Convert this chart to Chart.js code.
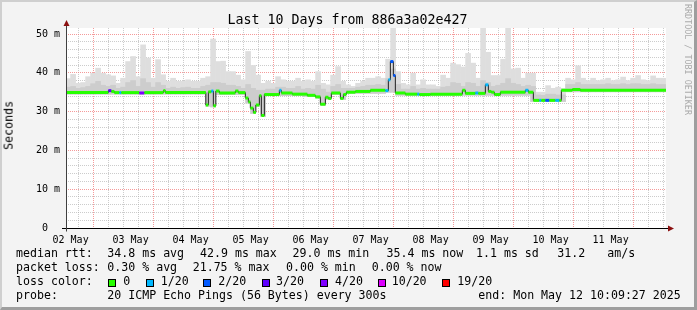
<!DOCTYPE html>
<html><head><meta charset="utf-8">
<script src="https://cdn.jsdelivr.net/npm/chart.js@4.4.1/dist/chart.umd.min.js"></script>
<style>
html,body{margin:0;padding:0;}
body{width:697px;height:310px;overflow:hidden;position:relative;background:#f3f3f3;font-family:"DejaVu Sans Mono",monospace;}
#frame{position:absolute;left:0;top:0;width:697px;height:310px;box-sizing:border-box;border-top:2px solid #cfcfcf;border-left:2px solid #cfcfcf;border-right:3px solid #9e9e9e;border-bottom:3px solid #9e9e9e;}
canvas{position:absolute;left:0;top:0;}
.t{position:absolute;white-space:pre;color:#000;line-height:1;}
.lg{font-size:11.6px;}
.box{position:absolute;width:8px;height:8px;box-sizing:border-box;border:1px solid #000;}
</style></head>
<body>
<div id="frame"></div>
<canvas id="c" width="697" height="310"></canvas>
<div class="t" id="title" style="font-size:13.3px;left:347.5px;top:12.8px;transform:translateX(-50%);">Last 10 Days from 886a3a02e427</div>
<div class="t" id="ytitle" style="font-size:11.6px;left:4px;top:101px;writing-mode:vertical-rl;transform:rotate(180deg);">Seconds</div>
<div class="t" id="rrd" style="font-size:8.4px;left:684px;top:4px;writing-mode:vertical-rl;color:#aaaaaa;">RRDTOOL / TOBI OETIKER</div>
<div id="legend"></div>
<script>
// ---------- data ----------
const startHour = 10.16;          // hours after 02 May 00:00
const endHour = 250.16;           // Mon May 12 10:09:27
const dayLabels = ['02 May','03 May','04 May','05 May','06 May','07 May','08 May','09 May','10 May','11 May'];
const yTickValues = [0,10,20,30,40,50];
const lossLabels = ['0','1/20','2/20','3/20','4/20','10/20','19/20'];
const lossColors = ['#26ff00','#00b8ff','#0059ff','#5e00ff','#7e00ff','#dd00ff','#ff0000'];

// smoke buckets: 2 hour buckets starting at 10:00 on 02 May (bucket centre = 11 + 2*i hours)
const bucketStart = 10;
const bucketHours = 2;
const smokeMax = [
 38.5,39.6,37.3,37.5,39.0,39.9,41.2,39.9,39.5,39.2, 37.3,38.6,42.9,44.2,39.0,47.2,43.8,38.6,43.4,39.5,
 37.8,38.6,37.8,37.8,38.2,37.8,37.8,38.6,39.0,48.7, 42.9,43.0,40.3,40.3,39.4,38.2,45.5,41.9,39.4,37.3,
 37.8,37.3,39.0,38.2,37.8,37.8,38.6,37.8,38.2,37.8, 40.3,37.3,36.9,39.4,41.6,37.8,36.9,36.5,37.3,37.8,
 38.6,38.6,39.0,38.6,43.5,51.6,40.3,37.3,36.9,39.9, 36.9,38.2,36.9,36.9,36.5,39.4,38.6,42.5,42.1,41.5,
 45.0,42.5,38.6,51.6,45.3,39.3,39.3,43.5,51.6,41.0, 41.2,38.6,39.9,39.9,35.0,35.0,36.7,36.0,36.3,36.0,
 38.6,38.2,41.8,38.6,38.0,38.6,38.0,38.2,38.6,38.0, 38.2,38.9,38.0,38.6,39.3,38.2,38.0,39.2,38.6,38.6
];
const smokeMid = [
 36.3,36.5,36.0,36.2,36.5,37.2,37.8,36.8,36.5,36.8, 36.0,36.3,37.5,38.0,36.5,38.5,37.5,36.3,37.5,36.8,
 36.0,36.3,36.0,36.2,36.3,36.0,36.0,36.5,36.8,37.5, 37.5,37.3,36.8,36.8,36.5,36.0,37.0,36.0,35.5,35.5,
 35.8,35.8,36.3,36.3,36.0,36.0,36.5,35.8,36.0,35.8, 36.8,35.8,35.0,36.5,37.0,36.0,36.0,36.0,36.3,36.5,
 36.8,36.8,37.0,36.8,38.5,41.0,37.0,35.8,35.8,36.5, 35.8,36.0,35.8,35.8,35.8,36.3,36.5,37.5,37.3,36.5,
 37.5,37.3,36.5,38.0,37.5,36.5,36.8,37.3,38.5,37.3, 37.0,36.5,36.8,36.5,34.3,34.2,34.5,34.5,34.3,34.3,
 37.0,37.0,37.5,37.0,37.0,37.0,37.0,37.0,37.2,37.0, 37.0,37.2,37.0,37.2,37.2,37.0,37.0,37.2,37.0,37.0
];
const smokeLow = [
 34.5,34.5,34.5,34.5,34.5,34.5,34.5,34.5,34.5,34.5, 34.5,34.5,34.5,34.5,34.5,34.5,34.5,34.5,34.5,34.5,
 34.5,34.5,34.5,34.5,34.5,34.5,34.5,34.5,31.4,31.2, 34.4,34.4,34.4,34.4,34.4,34.4,32.2,29.5,31.4,28.7,
 34.1,34.1,34.1,34.1,34.1,34.1,34.1,34.1,33.9,33.9, 33.5,31.6,33.1,34.4,34.4,33.1,34.7,34.7,34.7,34.7,
 34.7,34.7,34.7,34.7,35.0,35.0,34.2,34.2,34.2,34.2, 34.2,34.2,34.2,34.2,34.2,34.2,34.2,34.2,34.2,34.2,
 34.2,34.2,34.2,34.2,34.2,34.2,34.2,34.2,34.2,34.2, 34.2,34.2,34.2,32.6,32.6,32.6,32.6,32.6,32.6,32.6,
 35.1,35.1,35.1,35.1,35.1,35.1,35.1,35.1,35.1,35.1, 35.1,35.1,35.1,35.1,35.1,35.1,35.1,35.1,35.1,35.1
];

// median rtt steps: start hour of each step, value (ms), loss level index
const medianT = [10.16,27.1,28.3,29.5,31.5,32.3,39.5,41.5,49.1,49.9,66.1,67.1,68.3,69.1,70.1,71.5,77.9,79.1,81.9,83.1,
 83.9,85.1,86.1,87.5,88.3,89.5,95.5,96.3,100.7,106.7,109.9,111.9,113.9,115.1,116.3,119.9,121.1,122.3,125.9,131.9,
 137.9,139.1,139.9,141.1,141.9,145.9,150.7,151.5,155.9,168.7,169.9,173.9,175.1,177.9,179.1,180.3,181.5,183.9,193.9,195.1,
 197.1,199.5,200.3,201.9,203.5,205.9,207.5,208.3,212.7,215.9];
const medianV = [34.9,35.4,35.2,34.9,34.9,34.9,34.8,34.9,35.4,34.9,31.7,35.1,35.3,31.5,35.3,34.8,35.3,34.9,33.5,32.5,
 30.9,29.8,31.7,34.1,29.0,34.4,35.5,34.8,34.5,34.2,33.8,31.9,33.7,33.4,34.8,33.4,34.4,35.0,35.2,35.5,
 35.4,38.2,42.9,39.3,34.8,34.5,34.5,34.4,34.5,35.5,34.7,34.8,34.7,36.9,35.2,35.0,34.4,35.0,35.5,35.0,
 32.9,32.9,32.9,32.9,32.9,32.9,32.9,35.5,35.7,35.5];
const medianLoss = [0,3,0,0,1,0,4,0,0,0,0,0,1,0,0,0,0,0,0,0,
 0,0,0,0,0,0,1,0,0,0,0,0,0,0,0,0,0,0,0,0,
 1,1,2,2,0,0,1,0,0,0,0,1,0,1,0,0,0,0,1,0,
 0,1,0,2,0,1,0,0,0,0];

// ---------- build library structures ----------
const bucketCentres = smokeMax.map((_, i) => bucketStart + bucketHours * (i + 0.5));
const smokeLight = bucketCentres.map((x, i) => ({x, y: [smokeLow[i], smokeMax[i]]}));
const smokeDark = bucketCentres.map((x, i) => ({x, y: [smokeLow[i], smokeMid[i]]}));
const medianLine = medianT.map((t, k) => ({x: t, y: medianV[k]}));
medianLine.push({x: endHour, y: medianV[medianV.length - 1]});
const medianBands = [];
medianT.forEach((t, k) => {
  const tEnd = k + 1 < medianT.length ? medianT[k + 1] : endHour;
  medianBands.push({x: t, y: medianV[k]}, {x: tEnd, y: medianV[k]}, {x: tEnd, y: null});
});
const xTicks = [];
for (let h = 12; h < endHour; h += 6) xTicks.push(h);
const yTicks = [];
for (let v = 0; v <= 50; v += 2) yTicks.push(v);

Chart.defaults.font.family = '"DejaVu Sans Mono", monospace';
Chart.defaults.color = '#000';

const rrdPlugin = {
  id: 'rrd',
  beforeDraw(chart) {
    const {ctx, chartArea: a} = chart;
    ctx.save();
    ctx.fillStyle = '#ffffff';
    ctx.fillRect(a.left, a.top, a.right - a.left, a.bottom - a.top);
    ctx.restore();
  },
  afterDraw(chart) {
    const {ctx} = chart;
    const xs = chart.scales.x, ys = chart.scales.y;
    const y0 = Math.round(ys.getPixelForValue(0)) + 0.5;
    const x0 = Math.round(xs.left) + 0.5;
    ctx.save();
    ctx.lineWidth = 1;
    ctx.strokeStyle = '#000';
    ctx.beginPath(); ctx.moveTo(62, y0); ctx.lineTo(670, y0); ctx.stroke();
    ctx.strokeStyle = '#404040';
    ctx.beginPath(); ctx.moveTo(x0, y0 + 3); ctx.lineTo(x0, 24); ctx.stroke();
    ctx.fillStyle = '#8b1010';
    ctx.beginPath(); ctx.moveTo(674, y0); ctx.lineTo(668, y0 - 3); ctx.lineTo(668, y0 + 3); ctx.closePath(); ctx.fill();
    ctx.beginPath(); ctx.moveTo(x0, 20); ctx.lineTo(x0 - 3, 26); ctx.lineTo(x0 + 3, 26); ctx.closePath(); ctx.fill();
    ctx.restore();
  }
};

new Chart(document.getElementById('c'), {
  type: 'bar',
  data: {
    datasets: [
      {type: 'bar', data: smokeLight, backgroundColor: '#dedede', barPercentage: 1, categoryPercentage: 1, grouped: false, borderWidth: 0, order: 4},
      {type: 'bar', data: smokeDark, backgroundColor: '#cdcdcd', barPercentage: 1, categoryPercentage: 1, grouped: false, borderWidth: 0, order: 3},
      {type: 'line', data: medianLine, stepped: 'before', borderColor: '#202020', borderWidth: 1, pointRadius: 0, fill: false, order: 2},
      {type: 'line', data: medianBands, borderWidth: 3, pointRadius: 0, fill: false, spanGaps: false, borderCapStyle: 'butt', order: 1,
       borderColor: lossColors[0],
       segment: {borderColor: c => lossColors[medianLoss[Math.floor(c.p0DataIndex / 3)]]}}
    ]
  },
  options: {
    responsive: false,
    animation: false,
    events: [],
    layout: {padding: {left: 0, top: 28, right: 31, bottom: 62}},
    plugins: {legend: {display: false}, tooltip: {enabled: false}, title: {display: false}},
    scales: {
      x: {
        type: 'linear', min: startHour, max: endHour, offset: false, z: 1,
        afterFit: s => { s.height = 20; },
        afterBuildTicks: s => { s.ticks = xTicks.map(v => ({value: v})); },
        grid: {color: c => (c.tick && c.tick.value % 24 === 0) ? 'rgba(240,120,120,0.75)' : 'rgba(170,170,170,0.6)', drawTicks: false, lineWidth: 1},
        border: {display: false, dash: [1, 1]},
        ticks: {autoSkip: false, maxRotation: 0, padding: 6, font: {size: 10},
          callback: v => (v % 24 === 12) ? dayLabels[Math.floor(v / 24)] : ''}
      },
      y: {
        min: 0, max: 51.55, z: 1,
        afterFit: s => { s.width = 66; },
        afterBuildTicks: s => { s.ticks = yTicks.map(v => ({value: v})); },
        grid: {color: c => (c.tick && c.tick.value % 10 === 0) ? 'rgba(240,120,120,0.75)' : 'rgba(170,170,170,0.6)', drawTicks: false, lineWidth: 1},
        border: {display: false, dash: [1, 1]},
        ticks: {autoSkip: false, padding: 6, font: {size: 10},
          callback: v => yTickValues.includes(v) ? (v === 0 ? '0  ' : v + ' m') : ''}
      }
    }
  },
  plugins: [rrdPlugin]
});

// ---------- legend text ----------
const legendRows = [
  [[16,'median rtt:'],[107.3,'34.8 ms avg'],[200,'42.9 ms max'],[292.5,'29.0 ms min'],[386.5,'35.4 ms now'],[476,'1.1 ms sd'],[557.3,'31.2'],[607.3,'am/s']],
  [[16,'packet loss:'],[107.3,'0.30 % avg'],[192.7,'21.75 % max'],[286,'0.00 % min'],[371.7,'0.00 % now']],
  [[16,'loss color:'],[123.3,lossLabels[0]],[160.7,lossLabels[1]],[218.3,lossLabels[2]],[276,lossLabels[3]],[335,lossLabels[4]],[391.7,lossLabels[5]],[457.3,lossLabels[6]]],
  [[16,'probe:'],[107.3,'20 ICMP Echo Pings (56 Bytes) every 300s'],[478.3,'end: Mon May 12 10:09:27 2025']]
];
const rowBaselines = [258.3, 272.3, 286.3, 300.3];
const boxX = [108.3, 146, 203.3, 261.7, 320, 378.3, 441.7];
const legend = document.getElementById('legend');
legendRows.forEach((row, r) => {
  row.forEach(([x, txt]) => {
    const d = document.createElement('div');
    d.className = 't lg';
    d.style.left = x + 'px';
    d.style.top = (rowBaselines[r] - 0.846 * 11.6) + 'px';
    d.textContent = txt;
    legend.appendChild(d);
  });
});
boxX.forEach((x, i) => {
  const b = document.createElement('div');
  b.className = 'box';
  b.style.left = x + 'px';
  b.style.top = '279.3px';
  b.style.background = lossColors[i];
  legend.appendChild(b);
});
</script>
</body></html>
